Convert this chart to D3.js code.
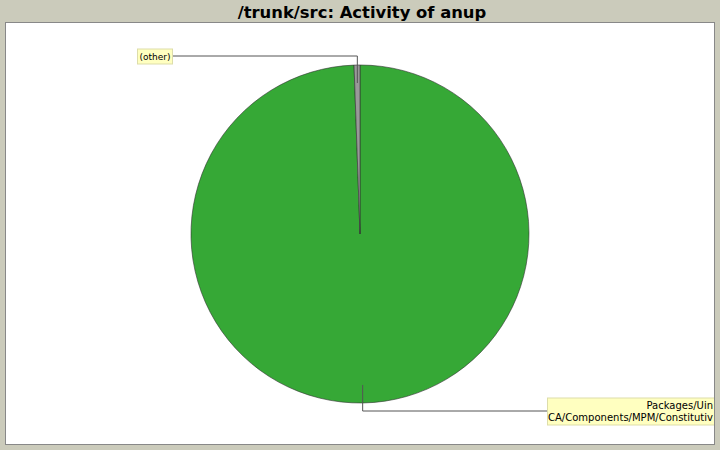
<!DOCTYPE html>
<html>
<head>
<meta charset="utf-8">
<title>/trunk/src: Activity of anup</title>
<script src="https://d3js.org/d3.v7.min.js"></script>
<style>
  body { margin: 0; background: #cbcbbb; }
  svg { display: block; }
</style>
</head>
<body>
<script>
// slices, clockwise from 12 o'clock
var names = ["Packages/Uintah/CCA/Components/MPM/ConstitutiveModel", "(other)"];
var values = [177, 1];
var colors = ["#36a836", "#999999"];
// label text as far as it shows inside the plot
var labelLines = [["Packages/Uin", "CA/Components/MPM/Constitutiv"], ["(other)"]];
var labelY = [411, 56];

var W = 720, H = 450;
var svg = d3.select("body").append("svg").attr("width", W).attr("height", H);

svg.append("rect").attr("width", W).attr("height", H).attr("fill", "#cbcbbb");
svg.append("text")
    .attr("x", 362).attr("y", 18)
    .attr("text-anchor", "middle")
    .style("font-family", "DejaVu Sans").style("font-weight", "bold").style("font-size", "16.4px")
    .text("/trunk/src: Activity of anup");

// plot area
svg.append("rect").attr("x", 5.5).attr("y", 22.5).attr("width", 709).attr("height", 422)
    .attr("fill", "#fff").attr("stroke", "#888");
svg.append("clipPath").attr("id", "plot").append("rect")
    .attr("x", 6).attr("y", 23).attr("width", 708).attr("height", 421);

var cx = 360, cy = 234, r = 169;
var pie = d3.pie().sort(null).value(function(d) { return d; });
var arcs = pie(values);
var arc = d3.arc().innerRadius(0).outerRadius(r);

var g = svg.append("g").attr("transform", "translate(" + cx + "," + cy + ")");
g.selectAll("path").data(arcs).enter().append("path")
    .attr("d", arc)
    .attr("fill", function(d, i) { return colors[i]; })
    .attr("stroke", "#333").attr("stroke-width", 0.6);

// leader lines and label boxes
var lab = svg.append("g").attr("clip-path", "url(#plot)");
arcs.forEach(function(d, i) {
  var a = (d.startAngle + d.endAngle) / 2;
  var px = cx + (r - 18) * Math.sin(a), py = cy - (r - 18) * Math.cos(a);
  var left = i === 1;
  var boxX = left ? 172 : 547;
  lab.append("polyline")
      .attr("points", [[px, py], [px, labelY[i]], [boxX, labelY[i]]].map(function(p) { return p.join(","); }).join(" "))
      .attr("fill", "none").attr("stroke", "#555").attr("stroke-width", 1);

  var lines = labelLines[i];
  var lh = 12;
  var bh = lines.length * lh + 3;
  var by = labelY[i] - bh / 2;
  if (left) {
    lab.append("rect").attr("x", 137.5).attr("y", by + 0.5).attr("width", 35).attr("height", bh)
        .attr("fill", "#ffffc0").attr("stroke", "#ddddaa");
    lab.append("text").attr("x", 155).attr("y", by + 11).attr("text-anchor", "middle")
        .style("font-family", "DejaVu Sans").style("font-size", "9px").text(lines[0]);
  } else {
    lab.append("rect").attr("x", boxX + 0.5).attr("y", by + 0.5).attr("width", 200).attr("height", bh)
        .attr("fill", "#ffffc0").attr("stroke", "#ddddaa");
    lab.append("text").attr("x", 713).attr("y", by + 11).attr("text-anchor", "end")
        .style("font-family", "DejaVu Sans").style("font-size", "10px").text(lines[0]);
    lab.append("text").attr("x", 713).attr("y", by + 23).attr("text-anchor", "end")
        .attr("textLength", 165).attr("lengthAdjust", "spacingAndGlyphs")
        .style("font-family", "DejaVu Sans").style("font-size", "10px").text(lines[1]);
  }
});
</script>
</body>
</html>
